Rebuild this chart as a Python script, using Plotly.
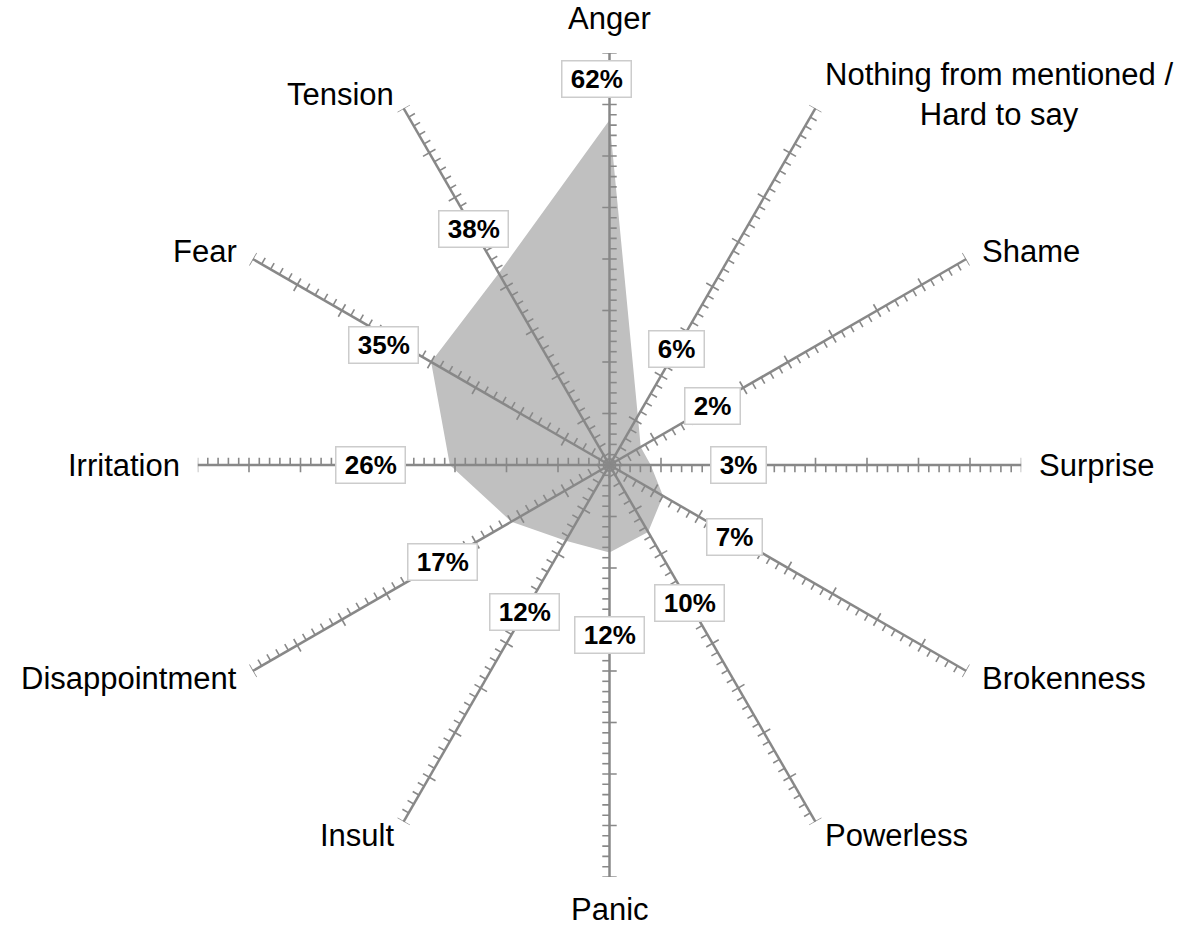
import math
import plotly.graph_objects as go

# ---------------- data ----------------
categories = ["Anger", "Nothing from mentioned /<br>Hard to say", "Shame", "Surprise",
              "Brokenness", "Powerless", "Panic", "Insult", "Disappointment",
              "Irritation", "Fear", "Tension"]
values = [62, 6, 2, 3, 7, 10, 12, 12, 17, 26, 35, 38]
value_labels = [f"{v}%" for v in values]
# placement of each value badge: distance beyond its vertex (axis units) and small turn (deg)
label_offsets = [8, 15, 16, 17, 16, 16, 16, 16, 15.5, 15.5, 9.6, 10]
label_turns = [2, 0, 0, 0, 0, 0, 0, 0, 0, 0, 2, 0]

# ---------------- scale / style ----------------
R_MIN, R_MAX = -5, 75          # radial scale (centre = R_MIN)
MINOR = 2                      # minor tick step
MAJOR_EVERY = 5                # a major tick every 5 minor steps
TICK = 1.4                     # tick length in axis units
W, H = 1192, 927
CX, CY, RAD = 609.5, 465, 412  # centre & radius in pixels (from top-left)
AXIS_COLOR = "#888888"
FONT = "Liberation Sans, Arial, sans-serif"

n = len(categories)
angles = [90 - 360 / n * k for k in range(n)]
SPAN = R_MAX - R_MIN
PX_PER_UNIT = RAD / SPAN

fig = go.Figure()

# filled polygon
fig.add_trace(go.Scatterpolar(
    r=values + values[:1], theta=angles + angles[:1], mode="lines",
    fill="toself", fillcolor="#c0c0c0", line=dict(color="#c0c0c0", width=0),
    hoverinfo="skip", showlegend=False))

# spokes
sr, st = [], []
for th in angles:
    sr += [R_MIN, R_MAX, None]
    st += [th, th, None]
fig.add_trace(go.Scatterpolar(r=sr, theta=st, mode="lines",
                              line=dict(color=AXIS_COLOR, width=2.5),
                              hoverinfo="skip", showlegend=False))

# tick marks along every spoke
tr, tt = [], []
nsteps = int(round(SPAN / MINOR))
for th in angles:
    for j in range(1, nsteps + 1):
        p = j * MINOR
        major = (j % MAJOR_EVERY == 0)
        qs = (-TICK, TICK) if major else (0.0, TICK)
        for q in qs:
            tr.append(R_MIN + math.hypot(p, q))
            tt.append(th - math.degrees(math.atan2(q, p)))
        tr.append(None)
        tt.append(None)
fig.add_trace(go.Scatterpolar(r=tr, theta=tt, mode="lines",
                              line=dict(color=AXIS_COLOR, width=1.6),
                              hoverinfo="skip", showlegend=False))

# centre ring
fig.add_trace(go.Scatterpolar(r=[R_MIN], theta=[0], mode="markers",
                              marker=dict(symbol="circle-open", size=12, color=AXIS_COLOR,
                                          line=dict(color=AXIS_COLOR, width=2)),
                              cliponaxis=False, hoverinfo="skip", showlegend=False))

# invisible cartesian overlay (same centre and scale) used to place the annotations
fig.add_trace(go.Scatter(x=[0], y=[0], mode="markers", marker=dict(opacity=0),
                         hoverinfo="skip", showlegend=False))

dom_x = [(CX - RAD) / W, (CX + RAD) / W]
dom_y = [(H - CY - RAD) / H, (H - CY + RAD) / H]
xr = [-CX / PX_PER_UNIT, (W - CX) / PX_PER_UNIT]
yr = [-(H - CY) / PX_PER_UNIT, CY / PX_PER_UNIT]

annotations = []
for th, v, lab, off, turn in zip(angles, values, value_labels, label_offsets, label_turns):
    d = v + off - R_MIN
    a = math.radians(th + turn)
    annotations.append(dict(
        x=d * math.cos(a), y=d * math.sin(a), xref="x", yref="y",
        text="\u2009<b>" + lab + "</b>\u2009", showarrow=False,
        font=dict(family=FONT, size=26, color="#000000"), height=29,
        bgcolor="#ffffff", bordercolor="#cccccc", borderwidth=1.5, borderpad=3))

PAD = 3
for th, cat in zip(angles, categories):
    a = math.radians(th)
    c, s = math.cos(a), math.sin(a)
    xa = "left" if c > 0.2 else ("right" if c < -0.2 else "center")
    extra = {}
    if s > 0.9:
        ya, d = "bottom", SPAN + PAD
    elif s < -0.9:
        ya, d = "middle", SPAN + 32 / PX_PER_UNIT
        extra = dict(height=30)
    else:
        ya, d = "middle", SPAN + PAD
    annotations.append(dict(
        x=d * c, y=d * s, xref="x", yref="y", text=cat, showarrow=False,
        xanchor=xa, yanchor=ya, align="center",
        font=dict(family=FONT, size=31, color="#000000"), **extra))

fig.update_layout(
    width=W, height=H, margin=dict(l=0, r=0, t=0, b=0),
    paper_bgcolor="white", plot_bgcolor="white",
    polar=dict(domain=dict(x=dom_x, y=dom_y), bgcolor="white",
               radialaxis=dict(visible=False, range=[R_MIN, R_MAX]),
               angularaxis=dict(visible=False)),
    xaxis=dict(domain=[0, 1], range=xr, visible=False, fixedrange=True),
    yaxis=dict(domain=[0, 1], range=yr, visible=False, fixedrange=True),
    annotations=annotations,
)

fig.write_html("out.html", config={"displayModeBar": False},
               post_script="document.body.style.margin='0';")
